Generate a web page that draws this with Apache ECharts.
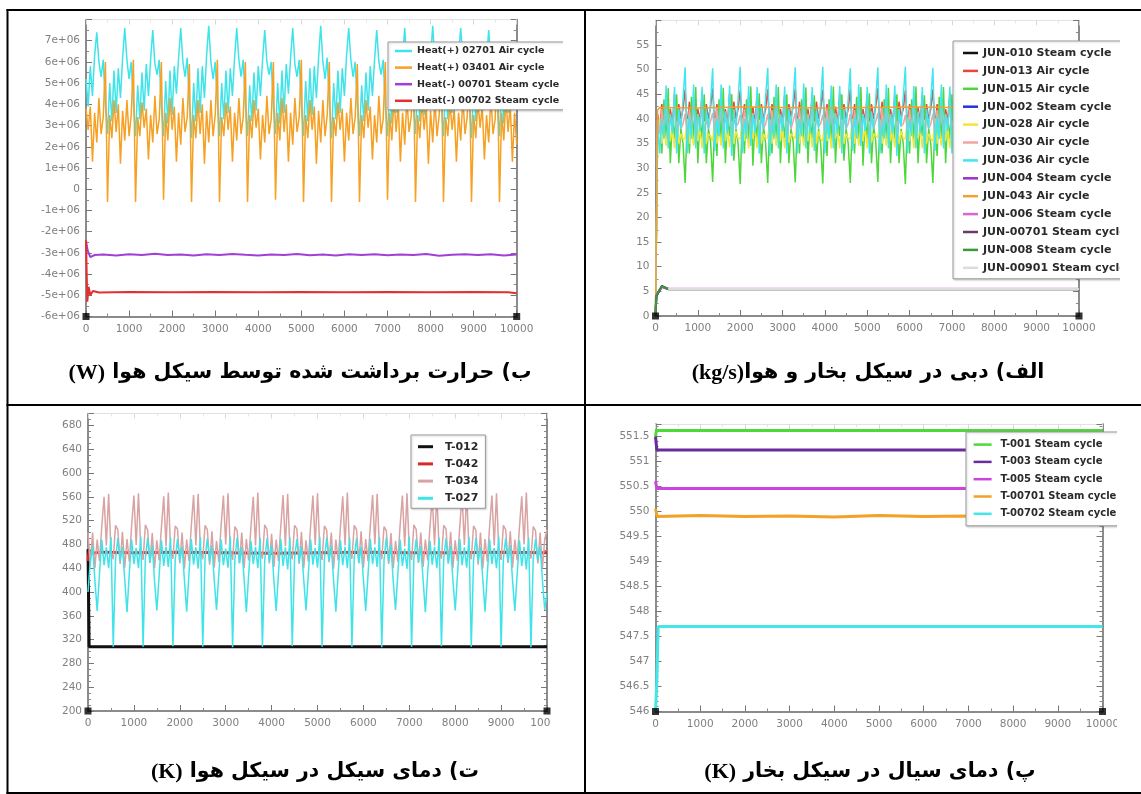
<!DOCTYPE html>
<html><head><meta charset="utf-8">
<script src="https://cdn.jsdelivr.net/npm/echarts@6/dist/echarts.min.js"></script>
<style>html,body{margin:0;padding:0;background:#fff}#c{width:1141px;height:794px}</style>
</head><body><div id="c"></div>
<script>
// ---------- shared sample times (s) ----------
const timeSteps = [
0,50,100,150,200,250,300,350,400,450,500,550,600,650,700,750,800,850,900,950,
1000,1050,1100,1150,1200,1250,1300,1350,1400,1450,1500,1550,1600,1650,1700,1750,1800,1850,1900,1950,
2000,2050,2100,2150,2200,2250,2300,2350,2400,2450,2500,2550,2600,2650,2700,2750,2800,2850,2900,2950,
3000,3050,3100,3150,3200,3250,3300,3350,3400,3450,3500,3550,3600,3650,3700,3750,3800,3850,3900,3950,
4000,4050,4100,4150,4200,4250,4300,4350,4400,4450,4500,4550,4600,4650,4700,4750,4800,4850,4900,4950,
5000,5050,5100,5150,5200,5250,5300,5350,5400,5450,5500,5550,5600,5650,5700,5750,5800,5850,5900,5950,
6000,6050,6100,6150,6200,6250,6300,6350,6400,6450,6500,6550,6600,6650,6700,6750,6800,6850,6900,6950,
7000,7050,7100,7150,7200,7250,7300,7350,7400,7450,7500,7550,7600,7650,7700,7750,7800,7850,7900,7950,
8000,8050,8100,8150,8200,8250,8300,8350,8400,8450,8500,8550,8600,8650,8700,8750,8800,8850,8900,8950,
9000,9050,9100,9150,9200,9250,9300,9350,9400,9450,9500,9550,9600,9650,9700,9750,9800,9850,9900,9950,
10000];

// ---------- panel b : heat (W) ----------
const heat02701Air = [
5.2e6,3.9e6,5.8e6,4.4e6,6.3e6,7.4e6,6.0e6,5.3e6,6.1e6,4.0e6,2.6e6,5.0e6,3.2e6,
5.6e6,3.6e6,5.7e6,4.3e6,6.2e6,7.6e6,6.1e6,5.2e6,6.0e6,4.1e6,2.5e6,4.9e6,3.3e6,
5.5e6,3.7e6,5.9e6,4.4e6,6.1e6,7.5e6,5.9e6,5.4e6,6.1e6,3.9e6,2.5e6,5.1e6,3.1e6,
5.6e6,3.5e6,5.8e6,4.5e6,6.2e6,7.6e6,6.0e6,5.3e6,6.2e6,4.0e6,2.4e6,5.0e6,3.2e6,
5.7e6,3.6e6,5.8e6,4.3e6,6.3e6,7.7e6,6.0e6,5.2e6,6.0e6,4.1e6,2.5e6,5.0e6,3.3e6,
5.6e6,3.6e6,5.7e6,4.4e6,6.2e6,7.6e6,6.1e6,5.3e6,6.1e6,4.0e6,2.5e6,4.9e6,3.2e6,
5.5e6,3.7e6,5.8e6,4.4e6,6.1e6,7.5e6,6.0e6,5.4e6,6.0e6,3.9e6,2.6e6,5.0e6,3.1e6,
5.6e6,3.6e6,5.9e6,4.5e6,6.2e6,7.6e6,5.9e6,5.3e6,6.1e6,4.0e6,2.5e6,5.1e6,3.2e6,
5.7e6,3.5e6,5.8e6,4.3e6,6.2e6,7.7e6,6.0e6,5.2e6,6.2e6,4.1e6,2.4e6,5.0e6,3.3e6,
5.6e6,3.6e6,5.7e6,4.4e6,6.3e6,7.6e6,6.1e6,5.3e6,6.0e6,4.0e6,2.5e6,4.9e6,3.2e6,
5.5e6,3.7e6,5.8e6,4.4e6,6.1e6,7.5e6,6.0e6,5.4e6,6.1e6,3.9e6,2.5e6,5.0e6,3.1e6,
5.6e6,3.6e6,5.9e6,4.5e6,6.2e6,7.6e6,5.9e6,5.3e6,6.1e6,4.0e6,2.6e6,5.1e6,3.2e6,
5.7e6,3.5e6,5.8e6,4.3e6,6.2e6,7.7e6,6.0e6,5.2e6,6.0e6,4.1e6,2.5e6,5.0e6,3.3e6,
5.6e6,3.6e6,5.7e6,4.4e6,6.3e6,7.6e6,6.1e6,5.3e6,6.2e6,4.0e6,2.4e6,4.9e6,3.2e6,
5.5e6,3.7e6,5.8e6,4.4e6,6.1e6,7.5e6,6.0e6,5.4e6,6.1e6,3.9e6,2.5e6,5.0e6,3.1e6,
5.6e6,3.6e6,5.8e6,4.5e6,6.2e6,6.8e6];
const heat03401Air = [
3.8e6,2.8e6,3.9e6,1.3e6,3.6e6,2.2e6,4.3e6,2.6e6,3.4e6,6.0e6,-0.6e6,3.5e6,2.4e6,
4.2e6,2.7e6,4.0e6,1.2e6,3.7e6,2.3e6,4.2e6,2.5e6,3.5e6,6.1e6,-0.6e6,3.4e6,2.5e6,
4.1e6,2.9e6,3.8e6,1.4e6,3.5e6,2.2e6,4.4e6,2.6e6,3.3e6,6.0e6,-0.5e6,3.6e6,2.3e6,
4.3e6,2.8e6,3.9e6,1.3e6,3.6e6,2.1e6,4.3e6,2.7e6,3.4e6,5.9e6,-0.6e6,3.5e6,2.4e6,
4.2e6,2.6e6,4.0e6,1.2e6,3.7e6,2.2e6,4.2e6,2.5e6,3.5e6,6.1e6,-0.6e6,3.4e6,2.5e6,
4.1e6,2.8e6,3.9e6,1.3e6,3.6e6,2.3e6,4.3e6,2.6e6,3.4e6,6.0e6,-0.6e6,3.5e6,2.4e6,
4.2e6,2.9e6,3.8e6,1.4e6,3.5e6,2.2e6,4.4e6,2.6e6,3.3e6,6.0e6,-0.5e6,3.6e6,2.3e6,
4.3e6,2.7e6,4.0e6,1.3e6,3.6e6,2.1e6,4.3e6,2.7e6,3.4e6,6.1e6,-0.6e6,3.5e6,2.4e6,
4.2e6,2.8e6,3.9e6,1.2e6,3.7e6,2.2e6,4.2e6,2.5e6,3.5e6,6.0e6,-0.6e6,3.4e6,2.5e6,
4.1e6,2.8e6,3.8e6,1.3e6,3.6e6,2.3e6,4.3e6,2.6e6,3.4e6,5.9e6,-0.6e6,3.5e6,2.4e6,
4.2e6,2.9e6,3.9e6,1.4e6,3.5e6,2.2e6,4.4e6,2.6e6,3.3e6,6.0e6,-0.5e6,3.6e6,2.3e6,
4.3e6,2.7e6,4.0e6,1.3e6,3.6e6,2.1e6,4.3e6,2.7e6,3.4e6,6.1e6,-0.6e6,3.5e6,2.4e6,
4.2e6,2.8e6,3.9e6,1.2e6,3.7e6,2.2e6,4.2e6,2.5e6,3.5e6,6.0e6,-0.6e6,3.4e6,2.5e6,
4.1e6,2.8e6,3.8e6,1.3e6,3.6e6,2.3e6,4.3e6,2.6e6,3.4e6,6.0e6,-0.6e6,3.5e6,2.4e6,
4.2e6,2.9e6,3.9e6,1.4e6,3.5e6,2.2e6,4.4e6,2.6e6,3.3e6,6.1e6,-0.6e6,3.6e6,2.3e6,
4.3e6,2.7e6,4.0e6,1.3e6,3.6e6,2.1e6];
const heat00701Steam = [[0,-2.45e6],[40,-2.9e6],[100,-3.2e6],[200,-3.1e6],[400,-3.08e6],[700,-3.12e6],[1000,-3.06e6],[1300,-3.1e6],[1600,-3.04e6],[1900,-3.1e6],[2200,-3.08e6],[2500,-3.12e6],[2800,-3.07e6],[3100,-3.1e6],[3400,-3.05e6],[3700,-3.09e6],[4000,-3.12e6],[4300,-3.08e6],[4600,-3.1e6],[4900,-3.05e6],[5200,-3.11e6],[5500,-3.08e6],[5800,-3.12e6],[6100,-3.07e6],[6400,-3.1e6],[6700,-3.06e6],[7000,-3.11e6],[7300,-3.08e6],[7600,-3.1e6],[7900,-3.05e6],[8200,-3.14e6],[8500,-3.09e6],[8800,-3.06e6],[9100,-3.1e6],[9400,-3.07e6],[9700,-3.12e6],[10000,-3.08e6]];
const heat00702Steam = [[0,-2.4e6],[30,-5.3e6],[60,-4.6e6],[100,-5.0e6],[160,-4.8e6],[300,-4.87e6],[1000,-4.85e6],[2000,-4.86e6],[3000,-4.84e6],[4000,-4.86e6],[5000,-4.85e6],[6000,-4.86e6],[7000,-4.84e6],[8000,-4.86e6],[9000,-4.85e6],[9800,-4.86e6],[10000,-4.9e6]];

// ---------- panel a : mass flow (kg/s) ----------
const jun036Air = [
0,40,33,40,36,46.8,34,41,37,46.5,33,42,38,
44,50.5,33,40.5,36,47,34,41,37.5,46.5,33,42,38,
43.5,50.3,33.5,40,36.5,47,34,41.5,37,46.8,32.5,42,38,
44,50.6,33,40,36,46.7,34.5,41,37,46.5,33,42.5,38,
44.5,50.4,32.5,40.5,36,47,34,41,37.5,46.6,33,42,38.5,
44,50.5,33,40,36.5,47.2,34,40.5,37,46.5,33.5,42,38,
43.5,50.6,33,40,36,46.8,34,41,37,46.7,33,42,38,
44,50.3,33.5,40.5,36,47,34.5,41,37.5,46.5,33,41.5,38,
44,50.5,33,40,36,47,34,41,37,46.8,32.5,42,38.5,
44.5,50.6,33,40,36.5,46.7,34,41.5,37,46.5,33,42,38,
44,50.4,33.5,40.5,36,47,34,41,37.5,46.6,33,42.5,38,
43.5,50.5,33,40,36,47.2,34.5,41,37,46.5,33.5,42,38,
44,50.6,33,40,36.5,46.8,34,40.5,37,46.7,33,42,38,
44.5,50.3,32.5,40.5,36,47,34,41,37.5,46.5,33,42,38.5,
44,50.5,33,40,36,47,34.5,41,37,46.8,33,41.5,38,
44,50.4,33,40,36.5,47];
const jun015Air = [
0,36,40,33,44,35,46.2,31,40,36,45,31,38,
35,27,40,33,44.5,35,46.5,31,40.5,36,45,31,38,
35.5,27.2,40,32.5,44,35.5,46.3,31,40,36.5,45,31.5,38,
35,26.8,40.5,33,44,35,46.6,30.5,40,36,45.2,31,38.5,
35,27,40,33,44.5,35,46.5,31,40,36,45,31,38,
35.5,27.1,40,33,44,35.5,46.4,31,40.5,36,44.8,31,38,
35,26.9,40.5,32.5,44,35,46.6,31,40,36.5,45,31.5,38,
35,27,40,33,44.5,35,46.5,30.5,40,36,45.2,31,38.5,
35.5,27.2,40,33,44,35.5,46.3,31,40.5,36,45,31,38,
35,26.8,40.5,33,44,35,46.6,31,40,36.5,44.8,31,38,
35,27,40,32.5,44.5,35,46.5,31,40,36,45,31.5,38,
35.5,27.1,40,33,44,35.5,46.4,30.5,40.5,36,45.2,31,38.5,
35,26.9,40.5,33,44,35,46.6,31,40,36.5,45,31,38,
35,27,40,33,44.5,35,46.5,31,40,36,44.8,31,38,
35.5,27.2,40,32.5,44,35.5,46.3,31,40.5,36,45,31.5,38,
35,27,40.5,33,44,35];
const jun013Air = [
0,41,38,43,39,44,37,42,39,45,38,43,40,
42,46,38,43.5,39,44,37,42,39.5,45,38,43,40,
42.5,46.2,38,43,39.5,44,37.5,42,39,45.2,38,43.5,40,
42,45.8,38.5,43,39,44.5,37,42.5,39,45,38.5,43,40,
42,46,38,43,39.5,44,37,42,39.5,44.8,38,43,40.5,
42.5,46.1,38,43.5,39,44,37.5,42,39,45,38,43.5,40,
42,45.9,38.5,43,39,44.5,37,42.5,39,45.2,38.5,43,40,
42,46,38,43,39.5,44,37,42,39.5,45,38,43,40,
42.5,46.2,38,43.5,39,44,37.5,42,39,44.8,38,43.5,40.5,
42,45.8,38.5,43,39,44.5,37,42.5,39,45,38.5,43,40,
42,46,38,43,39.5,44,37,42,39.5,45.2,38,43,40,
42.5,46.1,38,43.5,39,44,37.5,42,39,45,38,43.5,40,
42,45.9,38.5,43,39,44.5,37,42.5,39,44.8,38.5,43,40.5,
42,46,38,43,39.5,44,37,42,39.5,45,38,43,40,
42.5,46.2,38,43.5,39,44,37.5,42,39,45.2,38,43.5,40,
42,46,38.5,43,39,44];
const jun028Air = [
0,37,40,35,38.5,34.5,39,35.5,38,34,39.5,35,37,
36,36,40,35,38.5,34.5,39,35.5,38,34,39.5,35,37,
36.5,35.5,40.2,35,38,34.5,39.2,35.5,38,34.2,39.5,35,37.5,
36,36,40,35.5,38.5,34,39,36,38,34,39.8,35,37,
36,36.2,39.8,35,38.5,34.5,39,35.5,38.2,34,39.5,35.2,37,
36.5,36,40,35,38,34.5,39.2,35.5,38,34.2,39.5,35,37.5,
36,35.5,40.2,35.5,38.5,34,39,36,38,34,39.8,35,37,
36,36,40,35,38.5,34.5,39,35.5,38.2,34,39.5,35.2,37,
36.5,36.2,39.8,35,38,34.5,39.2,35.5,38,34.2,39.5,35,37.5,
36,36,40,35.5,38.5,34,39,36,38,34,39.8,35,37,
36,35.5,40.2,35,38.5,34.5,39,35.5,38.2,34,39.5,35.2,37,
36.5,36,40,35,38,34.5,39.2,35.5,38,34.2,39.5,35,37.5,
36,36.2,39.8,35.5,38.5,34,39,36,38,34,39.8,35,37,
36,36,40,35,38.5,34.5,39,35.5,38.2,34,39.5,35.2,37,
36.5,35.5,40.2,35,38,34.5,39.2,35.5,38,34.2,39.5,35,37.5,
36,36,40,35.5,38.5,34];
const jun030Air = [
0,40,37,42,38,43,37.5,41,38.5,42.5,37,40,38,
39,41,37,42,38,43,37.5,41,38.5,42.5,37,40,38,
39.5,41.2,37,42.2,38,42.8,37.5,41,38.5,42.5,37.2,40,38.5,
39,40.8,37.5,42,38.2,43,37,41.2,38.5,42.7,37,40.2,38,
39,41,37,41.8,38,43.2,37.5,41,38.8,42.5,37,40,38,
39.5,41.2,37,42.2,38,42.8,37.5,41,38.5,42.5,37.2,40,38.5,
39,40.8,37.5,42,38.2,43,37,41.2,38.5,42.7,37,40.2,38,
39,41,37,41.8,38,43.2,37.5,41,38.8,42.5,37,40,38,
39.5,41.2,37,42.2,38,42.8,37.5,41,38.5,42.5,37.2,40,38.5,
39,40.8,37.5,42,38.2,43,37,41.2,38.5,42.7,37,40.2,38,
39,41,37,41.8,38,43.2,37.5,41,38.8,42.5,37,40,38,
39.5,41.2,37,42.2,38,42.8,37.5,41,38.5,42.5,37.2,40,38.5,
39,40.8,37.5,42,38.2,43,37,41.2,38.5,42.7,37,40.2,38,
39,41,37,41.8,38,43.2,37.5,41,38.8,42.5,37,40,38,
39.5,41.2,37,42.2,38,42.8,37.5,41,38.5,42.5,37.2,40,38.5,
39,40.8,37.5,42,38.2,43];
const jun043Air = [[0,0],[50,41.8],[100,42.3],[1000,42.2],[2000,42.4],[3000,42.3],[4000,42.2],[5000,42.3],[6000,42.4],[7000,42.3],[8000,42.2],[9000,42.3],[10000,42.3]];
const jun010Steam = [[0,0],[20,4.2],[150,6.0],[300,5.45],[10000,5.45]];
const jun002Steam = [[0,0],[20,4.2],[150,6.0],[300,5.5],[10000,5.5]];
const jun004Steam = [[0,0],[20,4.1],[150,5.9],[300,5.48],[10000,5.48]];
const jun006Steam = [[0,0],[20,4.2],[150,6.0],[300,5.52],[10000,5.52]];
const jun00701Steam = [[0,0],[20,4.0],[150,6.1],[300,5.47],[10000,5.47]];
const jun008Steam = [[0,0],[20,4.2],[150,6.0],[300,5.5],[10000,5.5]];
const jun00901Steam = [[300,5.5],[10000,5.5]];

// ---------- panel c : air-cycle temperatures (K) ----------
const t012 = [[0,472],[25,308],[10000,308]];
const t042 = [[0,452],[30,470],[80,465],[300,467],[1000,466],[2000,467],[3000,466],[4000,465],[5000,466],[6000,467],[7000,466],[8000,466],[9000,467],[10000,466]];
const t034 = [
500,448,500,440,488,452,510,560,478,565,470,455,512,
505,447,501,441,489,451,511,562,479,566,471,454,513,
504,449,499,440,487,453,509,561,477,567,469,456,511,
506,448,500,439,488,452,510,563,478,565,470,455,512,
505,446,502,441,486,451,512,562,480,566,472,454,510,
503,449,500,440,489,453,509,560,478,567,470,456,513,
505,448,498,442,488,452,510,563,477,565,469,455,512,
506,447,501,440,487,451,511,562,479,566,471,454,511,
504,450,500,439,488,453,509,561,478,567,470,456,512,
505,448,502,441,489,452,510,563,480,565,472,455,510,
503,447,499,440,486,451,512,562,477,566,469,454,513,
505,449,500,442,488,453,509,560,478,567,470,456,512,
506,448,501,440,487,452,510,563,479,565,471,455,511,
504,446,500,439,489,451,511,562,478,566,470,454,512,
505,449,502,441,488,453,509,561,480,567,472,456,510,
503,448,500,440,488,505];
const t027 = [
400,450,478,420,368,430,488,445,475,440,492,308,455,
490,452,476,422,366,432,488,447,474,440,493,308,457,
491,449,479,418,369,428,487,444,476,442,491,309,454,
489,451,477,421,367,431,489,446,475,439,492,308,456,
490,450,478,420,370,430,488,445,473,441,493,307,455,
492,448,476,423,366,429,486,447,476,440,491,308,453,
490,451,479,419,368,432,489,444,475,438,492,309,456,
489,450,477,421,369,430,488,446,474,441,493,308,455,
491,452,478,420,367,431,487,445,476,440,491,308,457,
490,449,476,422,368,428,489,447,475,442,492,307,454,
492,451,479,418,370,430,488,444,473,439,493,308,456,
489,450,477,421,366,432,486,446,476,440,491,309,455,
490,448,478,420,369,429,489,445,475,441,492,308,453,
491,451,476,423,367,431,488,447,474,440,493,308,456,
490,450,479,419,368,430,487,444,476,438,491,307,455,
489,452,477,421,370,398];

// ---------- panel d : steam-cycle fluid temperatures (K) ----------
const t001Steam = [[0,551.5],[20,551.62],[10000,551.62]];
const t003Steam = [[0,551.5],[30,551.23],[10000,551.23]];
const t005Steam = [[0,550.6],[30,550.46],[10000,550.46]];
const t00701Steam = [[0,550.05],[40,549.9],[1000,549.92],[2000,549.9],[3000,549.91],[4000,549.89],[5000,549.92],[6000,549.9],[7000,549.91],[8000,549.9],[9000,549.91],[10000,549.9]];
const t00702Steam = [[0,546.0],[30,546.6],[60,547.7],[10000,547.7]];

// ---------- axis ranges / ticks ----------
const xRange = [0, 10000];
const xTickStep = 1000;
const yRanges = [[-6e6, 8e6, 1e6], [0, 60, 5], [200, 700, 40], [546, 551.75, 0.5]];

// ---------- captions ----------
const captionUnits = ['(W)', '(kg/s)', '(K)', '(K)'];
const captionTexts = [' ب) حرارت برداشت شده توسط سیکل هوا', 'الف) دبی در سیکل بخار و هوا', ' ت) دمای سیکل در سیکل هوا', ' پ) دمای سیال در سیکل بخار'];

// ================= build =================
const zip = (ts, vs) => ts.map((t, k) => [t, vs[k]]);
const FONT = 'DejaVu Sans';
const grids = [
  {left: 86, top: 19.5, width: 430.7, height: 297},
  {left: 655.5, top: 20.4, width: 423.5, height: 295.6},
  {left: 88, top: 413.5, width: 459, height: 297.5},
  {left: 655.5, top: 424, width: 447, height: 287.5}
];
const yMinor = [2, 2, 4, 5];
const heatFmt = v => v === 0 ? '0' : (v / 1e6) + 'e+06';
const plainFmt = v => String(v);

const xAxes = [], yAxes = [];
grids.forEach((g, gi) => {
  xAxes.push({type: 'value', gridIndex: gi, position: 'bottom', min: xRange[0], max: xRange[1], interval: xTickStep,
    axisLine: {show: true, onZero: false, lineStyle: {color: '#666', width: 1.5}},
    axisTick: {inside: true, length: 6, lineStyle: {color: '#777'}},
    minorTick: {show: true, splitNumber: 2, length: 3, lineStyle: {color: '#888'}},
    splitLine: {show: false},
    axisLabel: {fontSize: 10.5, color: '#808080', margin: 7, fontFamily: FONT, formatter: plainFmt}});
  xAxes.push({type: 'value', gridIndex: gi, position: 'top', min: xRange[0], max: xRange[1], interval: xTickStep,
    axisLine: {show: true, onZero: false, lineStyle: {color: '#e2e2e2', width: 1}},
    axisTick: {inside: true, length: 5, lineStyle: {color: '#d8d8d8'}},
    minorTick: {show: true, splitNumber: 2, length: 3, lineStyle: {color: '#e4e4e4'}},
    splitLine: {show: false}, axisLabel: {show: false}});
  const r = yRanges[gi];
  const common = {type: 'value', gridIndex: gi, min: r[0], max: r[1], interval: r[2], splitLine: {show: false},
    axisLine: {show: true, onZero: false, lineStyle: {color: '#666', width: 1.5}},
    axisTick: {inside: true, length: 6, lineStyle: {color: '#777'}},
    minorTick: {show: true, splitNumber: yMinor[gi], length: 3, lineStyle: {color: '#888'}}};
  yAxes.push(Object.assign({}, common, {position: 'left',
    axisLabel: {fontSize: 10.5, color: '#808080', margin: 6, fontFamily: FONT, showMaxLabel: false,
      formatter: gi === 0 ? heatFmt : plainFmt}}));
  yAxes.push(Object.assign({}, common, {position: 'right', axisLabel: {show: false}}));
});

function line(name, data, color, width, gi) {
  return {type: 'line', name, data, xAxisIndex: 2 * gi, yAxisIndex: 2 * gi, color,
    lineStyle: {color, width}, showSymbol: false, symbol: 'none', clip: true,
    emphasis: {disabled: true}, animation: false, z: 2};
}

const series = [
  // panel b
  line('Heat(+) 02701 Air cycle', zip(timeSteps, heat02701Air), '#3fe3ea', 1.5, 0),
  line('Heat(+) 03401 Air cycle', zip(timeSteps, heat03401Air), '#f6a024', 1.5, 0),
  line('Heat(-) 00701 Steam cycle', heat00701Steam, '#a23fd6', 2, 0),
  line('Heat(-) 00702 Steam cycle', heat00702Steam, '#e03030', 2, 0),
  // panel a
  line('JUN-010 Steam cycle', jun010Steam, '#111111', 2, 1),
  line('JUN-013 Air cycle', zip(timeSteps, jun013Air), '#e8473a', 1.5, 1),
  line('JUN-015 Air cycle', zip(timeSteps, jun015Air), '#4fd63c', 1.5, 1),
  line('JUN-002 Steam cycle', jun002Steam, '#2233dd', 2, 1),
  line('JUN-028 Air cycle', zip(timeSteps, jun028Air), '#f3e534', 1.5, 1),
  line('JUN-030 Air cycle', zip(timeSteps, jun030Air), '#f2a4a0', 1.5, 1),
  line('JUN-036 Air cycle', zip(timeSteps, jun036Air), '#43e6ee', 1.5, 1),
  line('JUN-004 Steam cycle', jun004Steam, '#9a33cc', 2, 1),
  line('JUN-043 Air cycle', jun043Air, '#f5a030', 1.5, 1),
  line('JUN-006 Steam cycle', jun006Steam, '#dd66cc', 2, 1),
  line('JUN-00701 Steam cycle', jun00701Steam, '#6a3a6a', 2, 1),
  line('JUN-008 Steam cycle', jun008Steam, '#3a9a3a', 2, 1),
  line('JUN-00901 Steam cycle', jun00901Steam, '#dcdcdc', 2, 1),
  // panel c
  line('T-012', t012, '#111111', 3, 2),
  line('T-042', t042, '#d82a2a', 3, 2),
  line('T-034', zip(timeSteps, t034), '#d9a3a3', 1.5, 2),
  line('T-027', zip(timeSteps, t027), '#3fe3e8', 1.5, 2),
  // panel d
  line('T-001 Steam cycle', t001Steam, '#4fd83a', 3, 3),
  line('T-003 Steam cycle', t003Steam, '#6a2c9a', 3, 3),
  line('T-005 Steam cycle', t005Steam, '#cc44dd', 3, 3),
  line('T-00701 Steam cycle', t00701Steam, '#f2a226', 3, 3),
  line('T-00702 Steam cycle', t00702Steam, '#44e6e8', 3, 3)
];
// black corner markers at the lower ends of every x axis
grids.forEach((g, gi) => {
  series.push({type: 'scatter', xAxisIndex: 2 * gi, yAxisIndex: 2 * gi, symbol: 'rect', symbolSize: 7,
    itemStyle: {color: '#000'}, clip: false, z: 6, silent: true, animation: false,
    data: [[xRange[0], yRanges[gi][0]], [xRange[1], yRanges[gi][0]]]});
});

const legendNames = [
  series.slice(0, 4).map(s => s.name),
  series.slice(4, 17).map(s => s.name),
  series.slice(17, 21).map(s => s.name),
  series.slice(21, 26).map(s => s.name)
];
function legend(gi, left, top, padding, itemW, itemH, gap, fs, textPad) {
  return {data: legendNames[gi], orient: 'vertical', left, top, padding, itemWidth: itemW, itemHeight: itemH,
    itemGap: gap, icon: 'rect', selectedMode: false, backgroundColor: '#fff', borderColor: '#9a9a9a', borderWidth: 1,
    shadowColor: 'rgba(0,0,0,0.18)', shadowBlur: 2, shadowOffsetX: 1, shadowOffsetY: 1,
    textStyle: {fontFamily: FONT, fontSize: fs, fontWeight: 'bold', color: '#2a2a2a', lineHeight: 12, padding: textPad}};
}
const legends = [
  legend(0, 388, 42, [3, 40, 3, 7], 17, 2.5, 4.6, 9.5, [0, 0, 0, 0]),
  legend(1, 953, 41, [6, 30, 5, 10], 15, 2.5, 5.9, 11, [0, 0, 0, 0]),
  legend(2, 411, 435, [5.7, 7, 4, 7], 15, 3, 5.2, 11, [0, 0, 0, 7]),
  legend(3, 966, 432, [6.6, 40, 6, 7.6], 18, 2.5, 5.3, 10, [0, 0, 0, 4])
];

// graphic: table borders, image-crop masks, captions
const B = '#000';
const capPos = [[300, 373], [868, 373], [315, 772], [870, 772]];
const graphics = [
  {type: 'rect', shape: {x: 563, y: 11, width: 55, height: 393}, style: {fill: '#fff'}, z: 50, silent: true},
  {type: 'rect', shape: {x: 1120, y: 11, width: 21, height: 393}, style: {fill: '#fff'}, z: 50, silent: true},
  {type: 'rect', shape: {x: 551, y: 406, width: 33, height: 340}, style: {fill: '#fff'}, z: 50, silent: true},
  {type: 'rect', shape: {x: 1117, y: 406, width: 24, height: 340}, style: {fill: '#fff'}, z: 50, silent: true},
  {type: 'line', shape: {x1: 6.5, y1: 10, x2: 1141, y2: 10}, style: {stroke: B, lineWidth: 2}, z: 60, silent: true},
  {type: 'line', shape: {x1: 7.5, y1: 9, x2: 7.5, y2: 794}, style: {stroke: B, lineWidth: 2}, z: 60, silent: true},
  {type: 'line', shape: {x1: 585, y1: 9, x2: 585, y2: 794}, style: {stroke: B, lineWidth: 2}, z: 60, silent: true},
  {type: 'line', shape: {x1: 6.5, y1: 405, x2: 1141, y2: 405}, style: {stroke: B, lineWidth: 2}, z: 60, silent: true},
  {type: 'line', shape: {x1: 6.5, y1: 793, x2: 1141, y2: 793}, style: {stroke: B, lineWidth: 2}, z: 60, silent: true}
];
captionTexts.forEach((t, k) => {
  graphics.push({type: 'text', x: capPos[k][0], y: capPos[k][1], z: 70, silent: true,
    style: {text: '{l|' + captionUnits[k] + '}{a|' + t + '}',
      align: 'center', verticalAlign: 'middle', textAlign: 'center', textVerticalAlign: 'middle',
      fill: '#000',
      rich: {
        l: {fontFamily: 'Liberation Serif', fontSize: 22, fontWeight: 'bold', fill: '#000', textFill: '#000'},
        a: {fontFamily: 'DejaVu Sans', fontSize: 20.5, fontWeight: 'bold', fill: '#000', textFill: '#000'}
      }}});
});

const chart = echarts.init(document.getElementById('c'), null, {renderer: 'canvas'});
chart.setOption({
  animation: false,
  backgroundColor: '#fff',
  grid: grids,
  xAxis: xAxes,
  yAxis: yAxes,
  legend: legends,
  series,
  graphic: {elements: graphics}
});
</script></body></html>
